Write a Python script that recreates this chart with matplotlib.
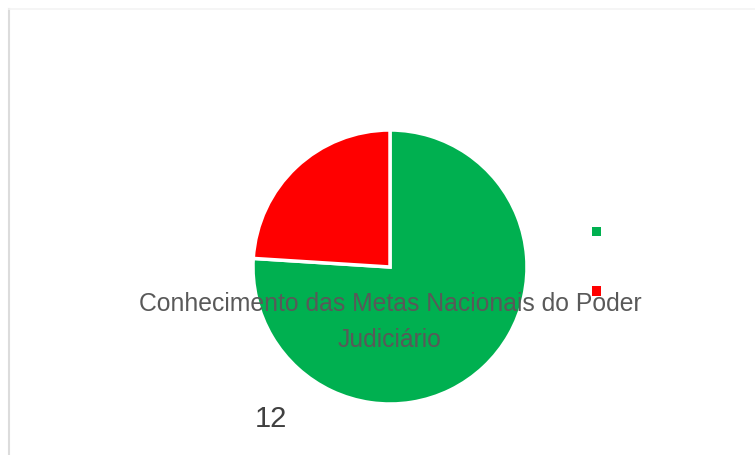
import matplotlib

matplotlib.use("Agg")
import matplotlib.pyplot as plt
from matplotlib.lines import Line2D
from matplotlib.patches import Patch

W, H = 755, 456

GREEN = "#00b050"
RED = "#ff0000"
TITLE_GREY = "#595959"
LABEL_INK = "#404040"

categories = ["Sim", "Não"]
values = [38, 12]
colors = [GREEN, RED]
title = "Conhecimento das Metas Nacionais do Poder\nJudiciário"
stray_label = "12"

plt.rcParams["font.family"] = ["Liberation Sans", "DejaVu Sans"]

fig = plt.figure(figsize=(W / 100, H / 100), dpi=100)

# pie axes: centre (390, 268) px, radius ~137 px
cx, cy, r = 390, 268, 137
ax = fig.add_axes([(cx - r) / W, (H - cy - r) / H, 2 * r / W, 2 * r / H])
wedges, _ = ax.pie(values, colors=colors, startangle=90, counterclock=False,
                   wedgeprops={"edgecolor": "white", "linewidth": 2.5})
ax.set_xlim(-1.0, 1.0)
ax.set_ylim(-1.0, 1.0)
ax.set_aspect("equal")
ax.axis("off")

# chart frame (only top and left edges visible)
fig.add_artist(Line2D([9 / W, 9 / W], [0, 1 - 10 / H], color="#dcdcdc", lw=1.5))
fig.add_artist(Line2D([9 / W, 1], [1 - 10 / H, 1 - 10 / H], color="#f3f3f3", lw=1.2))

fig.text(390 / W, 1 - 322 / H, title, ha="center", va="center", fontsize=17.8,
         color=TITLE_GREY, linespacing=1.62)

fig.text(271 / W, 1 - 419 / H, stray_label, ha="center", va="center", fontsize=21,
         color=LABEL_INK)

handles = [Patch(facecolor=c, edgecolor="none") for c in colors]
ax.legend(handles, ["", ""], loc="center left", bbox_to_anchor=(592 / W, 1 - 263 / H),
          bbox_transform=fig.transFigure, frameon=False, borderpad=0, borderaxespad=0,
          handlelength=0.65, handleheight=0.65, labelspacing=3.3, fontsize=10)

fig.savefig("out.png", dpi=100, facecolor="white")
